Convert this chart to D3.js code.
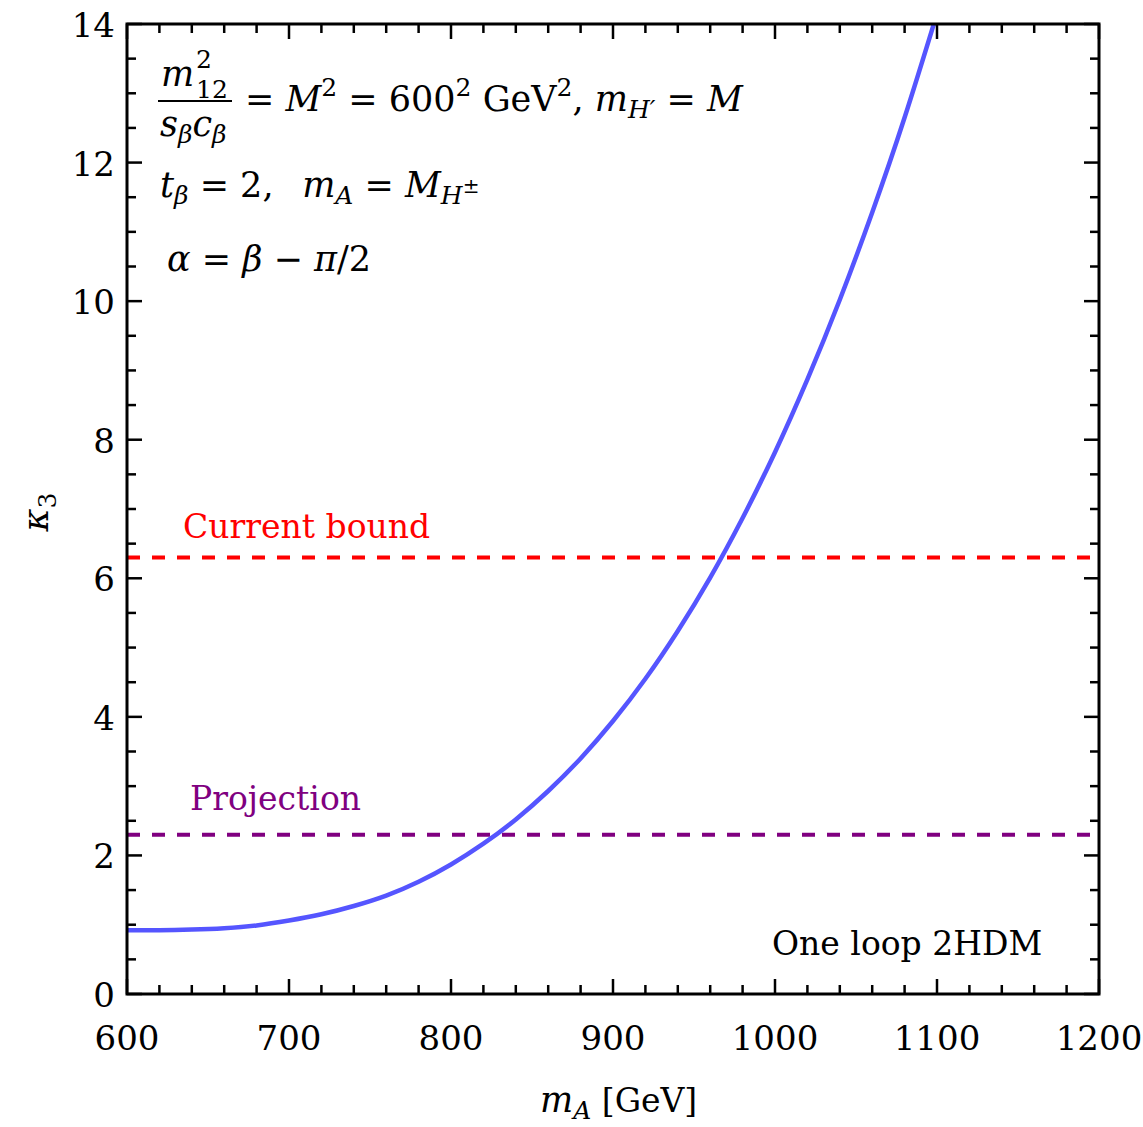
<!DOCTYPE html>
<html>
<head>
<meta charset="utf-8">
<script src="https://cdn.jsdelivr.net/npm/d3@7"></script>
<style>
  body { margin: 0; background: #fff; }
  svg { display: block; }
</style>
</head>
<body>
<svg id="chart"></svg>
<script>
// values
var massA = [600, 620, 640, 660, 680, 700, 720, 740, 760, 780, 800, 820, 840, 860, 880, 900,
             920, 940, 960, 980, 1000, 1020, 1040, 1060, 1080, 1100];
var kappa3 = [0.92, 0.92, 0.93, 0.95, 0.99, 1.06, 1.15, 1.27, 1.42, 1.62, 1.87, 2.17, 2.52, 2.93, 3.40, 3.94,
              4.55, 5.24, 6.01, 6.87, 7.82, 8.87, 10.02, 11.28, 12.65, 14.15];
var currentBound = 6.3;
var projection = 2.3;
var xTicks = [600, 700, 800, 900, 1000, 1100, 1200];
var yTicks = [0, 2, 4, 6, 8, 10, 12, 14];

var settings = { width: 1143, height: 1127 };
var margin = { left: 127, right: 44, top: 24, bottom: 133 };
var FONT = "DejaVu Serif";
var FS = 35, SUB = 25, LBL = 33, TICK = 34;

var svg = d3.select("#chart")
    .attr("width", settings.width)
    .attr("height", settings.height)
    .style("font-family", FONT);

var x = d3.scaleLinear().domain([600, 1200]).range([margin.left, settings.width - margin.right]);
var y = d3.scaleLinear().domain([0, 14]).range([settings.height - margin.bottom, margin.top]);

var x0 = x.range()[0], x1 = x.range()[1], y0 = y.range()[0], y1 = y.range()[1];

svg.append("defs").append("clipPath").attr("id", "plotclip")
    .append("rect").attr("x", x0).attr("y", y1).attr("width", x1 - x0).attr("height", y0 - y1);

var plot = svg.append("g").attr("clip-path", "url(#plotclip)");

// dashed bounds
plot.append("line")
    .attr("x1", x0).attr("x2", x1)
    .attr("y1", y(currentBound)).attr("y2", y(currentBound))
    .attr("stroke", "#ff0000").attr("stroke-width", 4)
    .attr("stroke-dasharray", "13,12");
plot.append("line")
    .attr("x1", x0).attr("x2", x1)
    .attr("y1", y(projection)).attr("y2", y(projection))
    .attr("stroke", "#800080").attr("stroke-width", 4)
    .attr("stroke-dasharray", "13,12");

// curve
var line = d3.line()
    .x(function (d, i) { return x(massA[i]); })
    .y(function (d) { return y(d); })
    .curve(d3.curveNatural);
plot.append("path")
    .datum(kappa3)
    .attr("d", line)
    .attr("fill", "none")
    .attr("stroke", "#5555ff")
    .attr("stroke-width", 4.5);

// ticks, all inward on four sides
var ticks = svg.append("g").attr("stroke", "#000").attr("stroke-width", 2.5);
d3.range(600, 1201, 20).forEach(function (v) {
    var len = (v % 100 === 0) ? 15 : 9;
    ticks.append("line").attr("x1", x(v)).attr("x2", x(v)).attr("y1", y0).attr("y2", y0 - len);
    ticks.append("line").attr("x1", x(v)).attr("x2", x(v)).attr("y1", y1).attr("y2", y1 + len);
});
d3.range(0, 14.01, 0.5).forEach(function (v) {
    var len = (Math.abs(v % 2) < 1e-6) ? 15 : 9;
    ticks.append("line").attr("y1", y(v)).attr("y2", y(v)).attr("x1", x0).attr("x2", x0 + len);
    ticks.append("line").attr("y1", y(v)).attr("y2", y(v)).attr("x1", x1).attr("x2", x1 - len);
});

// frame
svg.append("rect")
    .attr("x", x0).attr("y", y1).attr("width", x1 - x0).attr("height", y0 - y1)
    .attr("fill", "none").attr("stroke", "#000").attr("stroke-width", 3);

// tick labels
svg.append("g").selectAll("text").data(xTicks).enter().append("text")
    .attr("x", function (d) { return x(d); })
    .attr("y", y0 + 56)
    .attr("text-anchor", "middle")
    .attr("font-size", TICK)
    .text(function (d) { return d; });
svg.append("g").selectAll("text").data(yTicks).enter().append("text")
    .attr("x", x0 - 12)
    .attr("y", function (d) { return y(d) + 13; })
    .attr("text-anchor", "end")
    .attr("font-size", TICK)
    .text(function (d) { return d; });

// helper for math-ish text runs: parts [text, italic, dyLevel, size]
function mathText(px, py, parts, color) {
    var t = svg.append("text").attr("x", px).attr("y", py).attr("fill", color || "#000");
    var cur = 0;
    parts.forEach(function (p) {
        var off = p[2] || 0;
        t.append("tspan")
            .attr("dy", off - cur)
            .attr("font-style", p[1] ? "italic" : "normal")
            .attr("font-size", p[3] || FS)
            .text(p[0]);
        cur = off;
    });
    return t;
}

// axis titles
mathText(540, 1112, [["m", true], ["A", true, 7, SUB], [" [GeV]", false, 0, LBL]]);
var yl = svg.append("text").attr("transform", "translate(48,512) rotate(-90)")
    .attr("text-anchor", "middle");
yl.append("tspan").attr("font-style", "italic").attr("font-size", FS).text("κ");
yl.append("tspan").attr("font-size", SUB).attr("dy", 8).text("3");

// line annotations
svg.append("text").attr("x", 183).attr("y", 538).attr("font-size", LBL).attr("fill", "#ff0000").text("Current bound");
svg.append("text").attr("x", 190).attr("y", 810).attr("font-size", LBL).attr("fill", "#800080").text("Projection");
svg.append("text").attr("x", 772).attr("y", 955).attr("font-size", LBL).text("One loop 2HDM");

// parameter box text
mathText(161, 86, [["m", true]]);
svg.append("text").attr("x", 196).attr("y", 68).attr("font-size", SUB).text("2");
svg.append("text").attr("x", 196).attr("y", 98).attr("font-size", SUB).text("12");
svg.append("line").attr("x1", 158).attr("x2", 232).attr("y1", 101).attr("y2", 101)
    .attr("stroke", "#000").attr("stroke-width", 2);
mathText(160, 136, [["s", true], ["β", true, 7, SUB], ["c", true, 0, FS], ["β", true, 7, SUB]]);

mathText(245, 111, [["= ", false], ["M", true], ["2", false, -15, SUB], [" = 600", false, 0, FS],
    ["2", false, -15, SUB], [" GeV", false, 0, FS], ["2", false, -15, SUB], [", ", false, 0, FS],
    ["m", true], ["H′", true, 7, SUB], [" = ", false, 0, FS], ["M", true]]);

mathText(160, 197, [["t", true], ["β", true, 7, SUB], [" = 2,\u2002 ", false, 0, FS], ["m", true],
    ["A", true, 7, SUB], [" = ", false, 0, FS], ["M", true], ["H", true, 7, SUB], ["±", false, -4, 20]]);

mathText(167, 271, [["α", true], [" = ", false], ["β", true], [" − ", false], ["π", true], ["/2", false]]);
</script>
</body>
</html>
